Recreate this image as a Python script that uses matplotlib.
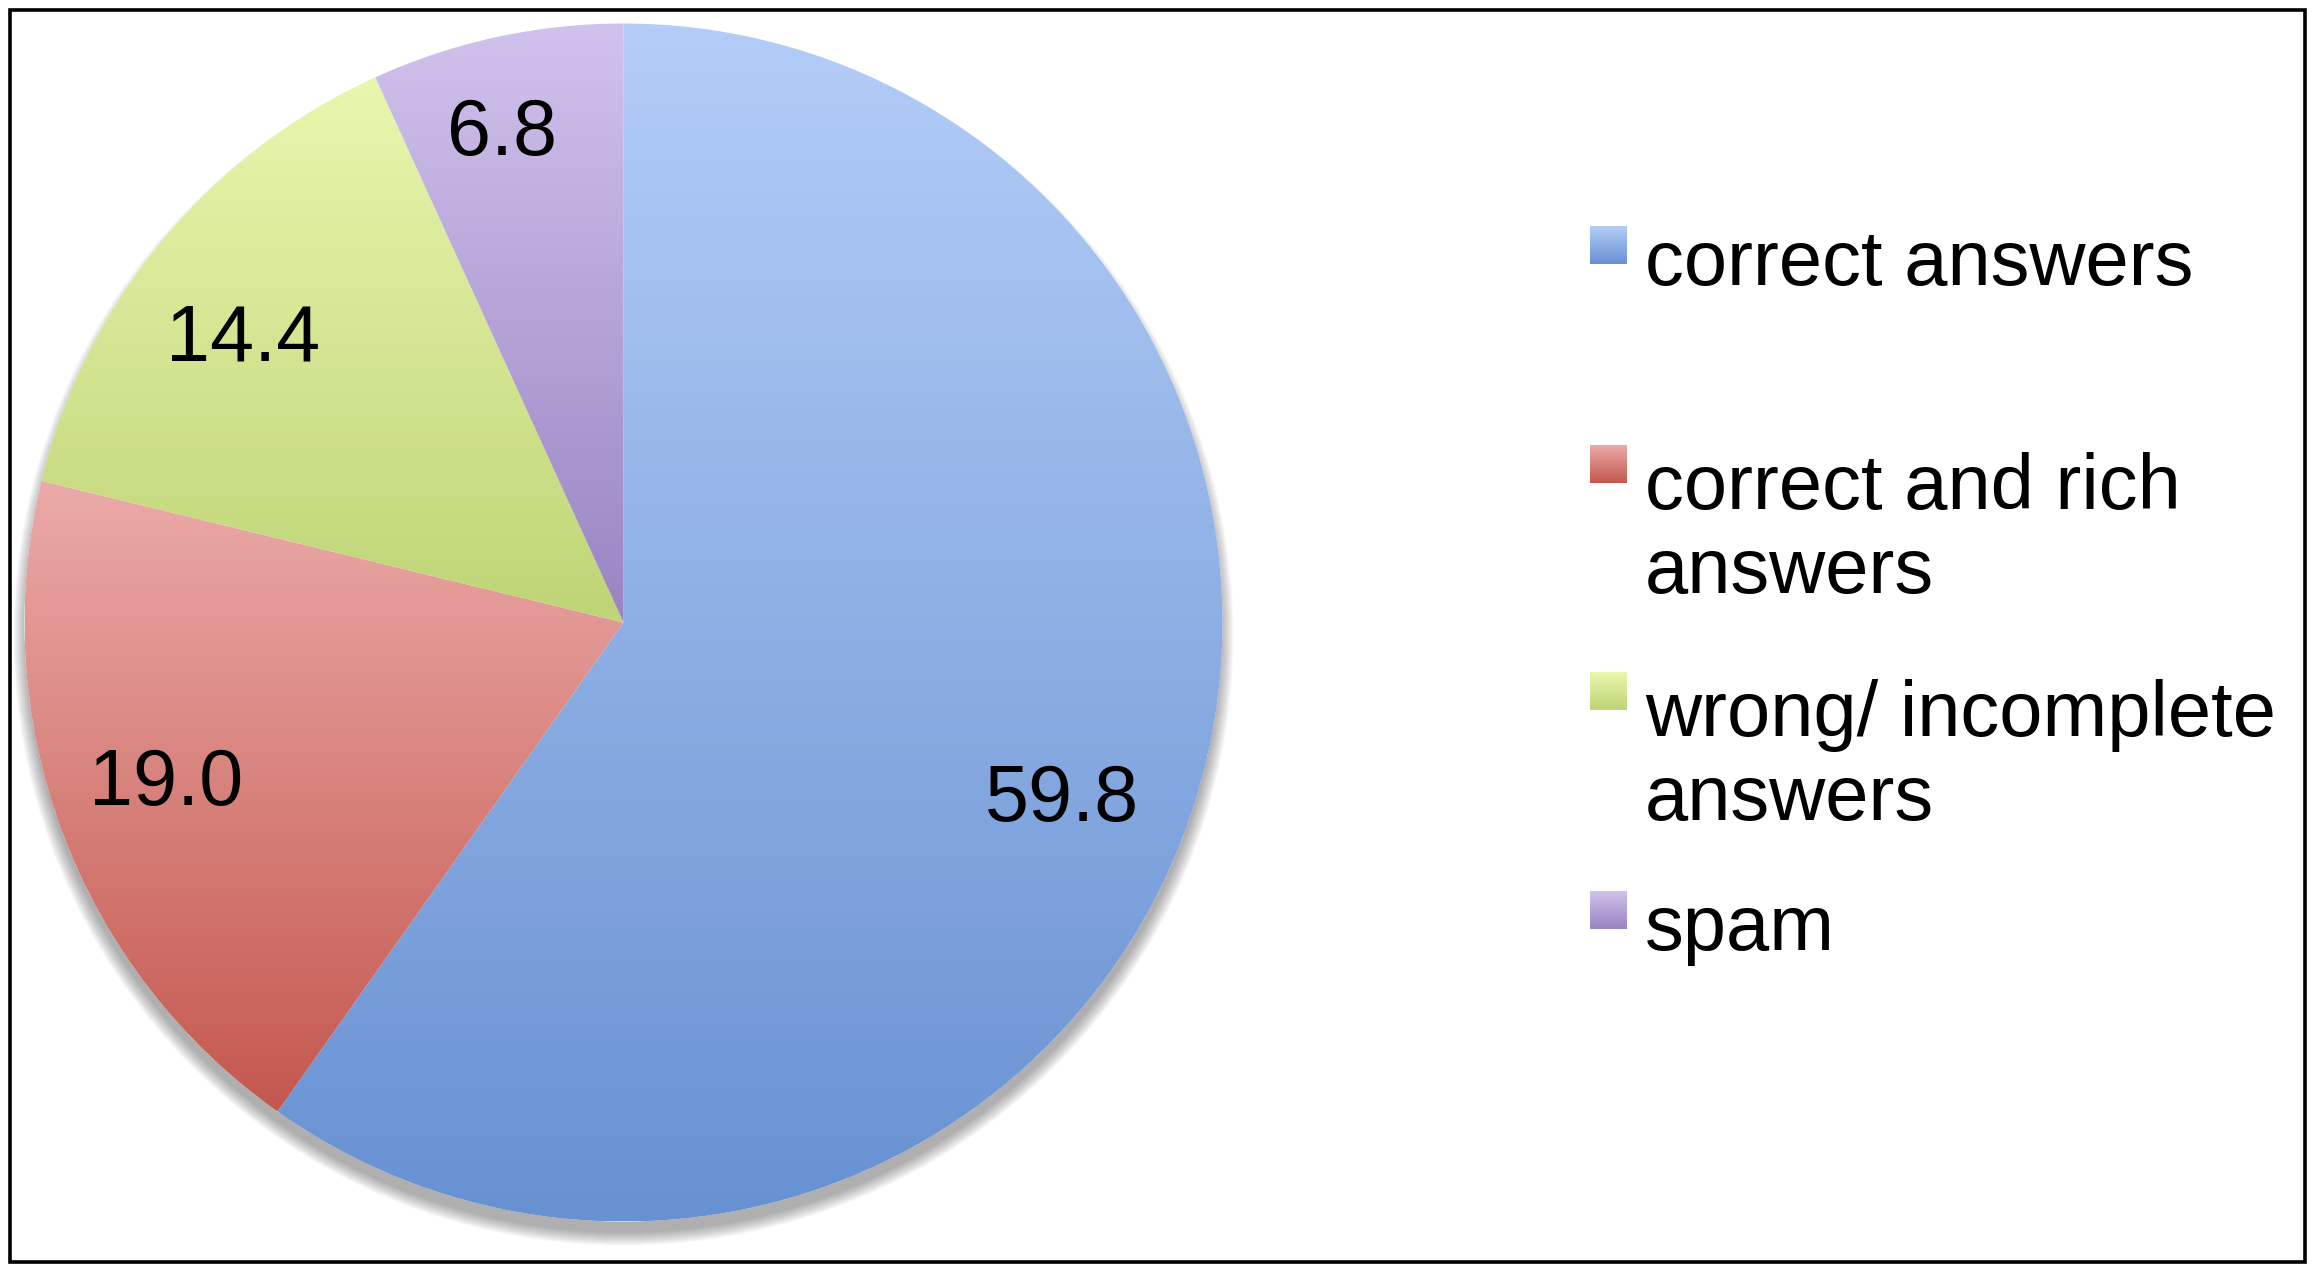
import numpy as np
import matplotlib
matplotlib.use("Agg")
import matplotlib.pyplot as plt
from matplotlib.colors import LinearSegmentedColormap
from matplotlib.patches import Rectangle, Circle

categories = ["correct answers", "correct and rich\nanswers", "wrong/ incomplete\nanswers", "spam"]
values = [59.8, 19.0, 14.4, 6.8]
value_labels = ["59.8", "19.0", "14.4", "6.8"]
top_colors = ["#B3CDF7", "#EBAAA8", "#E8F7AE", "#D0C2EC"]
bottom_colors = ["#6891D2", "#C4584F", "#BFD476", "#9A84C3"]

W, H = 2316, 1273
plt.rcParams['font.family'] = ['Liberation Sans', 'DejaVu Sans']
fig = plt.figure(figsize=(W / 100, H / 100), dpi=100)
ax = fig.add_axes([0, 0, 1, 1])

cx, cy, R = 623.5, H - 622.5, 599

# soft shadow below the pie
for k in range(14):
    ax.add_patch(Circle((cx, cy - 13), R - 2 + k, facecolor='#444444',
                        edgecolor='none', alpha=0.035, zorder=1))
ax.add_patch(Circle((cx, cy), R, facecolor='white', edgecolor='none', zorder=1.5))

wedges, _ = ax.pie(values, startangle=90, counterclock=False, center=(cx, cy),
                   radius=R, frame=True, wedgeprops=dict(linewidth=0))
for w, tc, bc in zip(wedges, top_colors, bottom_colors):
    w.set_facecolor('none')
    w.set_zorder(2)
    th = np.radians(np.linspace(w.theta1, w.theta2, 200))
    ys = np.concatenate([[cy], cy + R * np.sin(th)])
    xs = np.concatenate([[cx], cx + R * np.cos(th)])
    cmap = LinearSegmentedColormap.from_list("g", [bc, tc])
    grad = np.linspace(0, 1, 256).reshape(-1, 1)
    im = ax.imshow(grad, cmap=cmap, origin='lower', aspect='auto',
                   extent=[xs.min(), xs.max(), ys.min(), ys.max()], zorder=2,
                   interpolation='bilinear')
    im.set_clip_path(w)

label_r = [0.79, 0.81, 0.79, 0.84]
label_dang = [-4.5, -1.0, 3.0, 1.7]
for w, lab, lr, da in zip(wedges, value_labels, label_r, label_dang):
    mid = np.radians((w.theta1 + w.theta2) / 2 + da)
    ax.text(cx + lr * R * np.cos(mid), cy + lr * R * np.sin(mid), lab,
            fontsize=57, ha='center', va='center', zorder=5)

# legend
first_baselines = [285, 504, 731, 950]
line_step = 89
for cat, base, tc, bc in zip(categories, first_baselines, top_colors, bottom_colors):
    nlines = cat.count("\n") + 1
    y0 = H - base
    cmap = LinearSegmentedColormap.from_list("g", [bc, tc])
    grad = np.linspace(0, 1, 64).reshape(-1, 1)
    ax.imshow(grad, cmap=cmap, origin='lower', aspect='auto',
              extent=[1590, 1627, y0 + 21, y0 + 59], zorder=3)
    ax.text(1645, y0 - (nlines - 1) * line_step, cat, fontsize=56, ha='left',
            va='baseline', linespacing=1.2, zorder=5)

ax.add_patch(Rectangle((10, H - 1261.5), 2304.5 - 10, 1261.5 - 9.5, facecolor='none',
                       edgecolor='black', linewidth=2.6, zorder=6))

ax.set_xlim(0, W)
ax.set_ylim(0, H)
ax.set_aspect('equal')
ax.axis('off')

fig.savefig("out.png", dpi=100)
